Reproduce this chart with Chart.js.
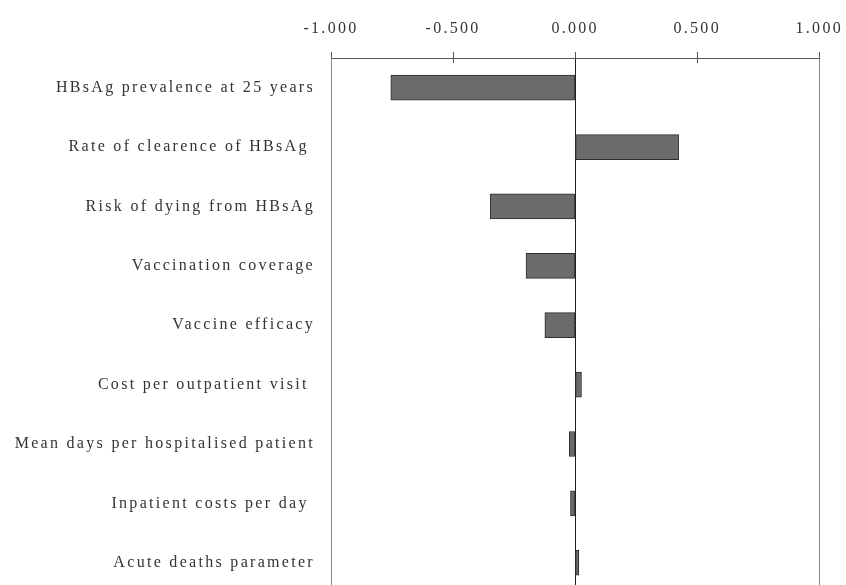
<!DOCTYPE html>
<html>
<head>
<meta charset="utf-8">
<script src="https://cdn.jsdelivr.net/npm/chart.js@4"></script>
<style>
  html, body { margin: 0; padding: 0; background: #fff; overflow: hidden; }
  #wrap { width: 846px; height: 585px; overflow: hidden; }
</style>
</head>
<body>
<div id="wrap"><canvas id="tornado" width="857" height="618"></canvas></div>
<script>
// sensitivity parameters, top to bottom
var params = [
  'HBsAg prevalence at 25 years',
  'Rate of clearence of HBsAg ',
  'Risk of dying from HBsAg',
  'Vaccination coverage',
  'Vaccine efficacy',
  'Cost per outpatient visit ',
  'Mean days per hospitalised patient',
  'Inpatient costs per day ',
  'Acute deaths parameter'
];
var effects = [-0.755, 0.424, -0.348, -0.201, -0.124, 0.026, -0.024, -0.019, 0.015];
var xTicks = [-1, -0.5, 0, 0.5, 1];

var spacing = {
  id: 'spacing',
  beforeUpdate: function(chart) { chart.ctx.letterSpacing = '2.3px'; },
  beforeDraw: function(chart) { chart.ctx.letterSpacing = '2.3px'; }
};

// short tick marks that cross the top axis line into the plot
var innerTicks = {
  id: 'innerTicks',
  afterDraw: function(chart) {
    var c = chart.ctx, xs = chart.scales.x, top = chart.chartArea.top;
    c.save();
    c.strokeStyle = '#555';
    c.lineWidth = 1;
    [-0.5, 0.5].forEach(function(v) {
      var px = Math.round(xs.getPixelForValue(v)) + 0.5;
      c.beginPath();
      c.moveTo(px, top);
      c.lineTo(px, top + 5);
      c.stroke();
    });
    c.restore();
  }
};

var ctx = document.getElementById('tornado').getContext('2d');
var tornado = new Chart(ctx, {
  type: 'bar',
  data: {
    labels: params,
    datasets: [{
      data: effects,
      backgroundColor: '#6b6b6b',
      borderColor: '#2e2e2e',
      borderWidth: 1,
      borderSkipped: false,
      barThickness: 25
    }]
  },
  plugins: [spacing, innerTicks],
  options: {
    indexAxis: 'y',
    responsive: false,
    animation: false,
    layout: { padding: 0 },
    plugins: {
      legend: { display: false },
      tooltip: { enabled: false }
    },
    scales: {
      x: {
        position: 'top',
        min: -1,
        max: 1,
        afterBuildTicks: function(axis) {
          axis.ticks = xTicks.map(function(v) { return { value: v }; });
        },
        afterFit: function(axis) { axis.height = 58; },
        border: { display: true, color: '#555', width: 1 },
        grid: {
          drawTicks: true,
          tickLength: 6,
          tickColor: '#555',
          color: function(c) {
            var v = c.tick ? c.tick.value : null;
            if (v === 0) return '#222';
            if (v === 1 || v === -1) return '#8a8a8a';
            return 'rgba(0,0,0,0)';
          },
          lineWidth: 1
        },
        ticks: {
          padding: 14,
          color: '#333',
          font: { family: 'Liberation Serif', size: 16 },
          callback: function(v) { return Number(v).toFixed(3); }
        }
      },
      y: {
        afterFit: function(axis) { axis.width = 331; },
        border: { display: true, color: '#8a8a8a', width: 1 },
        grid: { display: false, drawTicks: false },
        ticks: {
          padding: 16,
          color: '#333',
          font: { family: 'Liberation Serif', size: 16 }
        }
      }
    }
  }
});
</script>
</body>
</html>
